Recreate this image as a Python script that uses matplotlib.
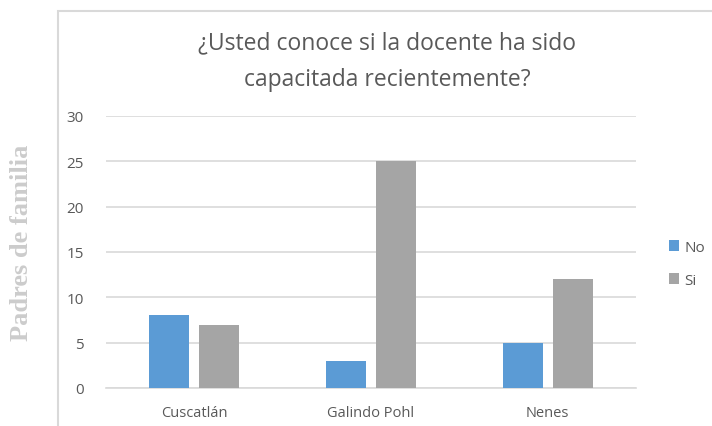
import numpy as np
import matplotlib
matplotlib.use('Agg')
import matplotlib.pyplot as plt
from matplotlib.patches import Rectangle

# data
categories = ['Cuscatlán', 'Galindo Pohl', 'Nenes']
series_names = ['No', 'Si']
no_values = [8, 3, 5]
si_values = [7, 25, 12]
yticks = [0, 5, 10, 15, 20, 25, 30]

col_no = '#5B9BD5'
col_si = '#A5A5A5'
txt = '#595959'
grid = '#D9D9D9'

plt.rcParams['font.family'] = ['Open Sans', 'DejaVu Sans']

fig = plt.figure(figsize=(7.12, 4.27), dpi=100)
ax = fig.add_axes([106/712, 1 - 389/427, 530/712, 272/427])

x = np.arange(len(categories))
w = 0.226
off = 0.142
ax.bar(x - off, no_values, w, color=col_no, label=series_names[0], zorder=3)
ax.bar(x + off, si_values, w, color=col_si, label=series_names[1], zorder=3)

ax.set_xlim(-0.5, len(categories) - 0.5)
ax.set_ylim(0, 30)
ax.set_yticks(yticks)
ax.set_xticks(x)
ax.set_xticklabels(categories)
ax.yaxis.grid(True, color=grid, linewidth=1.2, zorder=0)
for s in ['top', 'right', 'left']:
    ax.spines[s].set_visible(False)
ax.spines['bottom'].set_color(grid)
ax.spines['bottom'].set_linewidth(1.2)
ax.tick_params(axis='both', length=0, colors=txt, labelsize=10.5)
ax.tick_params(axis='y', pad=16, labelsize=11)
ax.tick_params(axis='x', pad=12)

# chart area border (left and top edges visible)
fig.patches.append(Rectangle((58/712, -0.1), 1.0, 1 - 12/427 + 0.1,
                             transform=fig.transFigure, fill=False,
                             edgecolor=grid, linewidth=1.5))

fig.text(387/712, 1 - 62/427, '¿Usted conoce si la docente ha sido\ncapacitada recientemente?',
         ha='center', va='center', fontsize=16.5, color=txt, linespacing=1.7)

fig.text(22/712, 1 - 243/427, 'Padres de familia', rotation=90, ha='center', va='center',
         fontsize=19, fontweight='bold', family='Liberation Serif', color='#CCCCCC')

fig.legend(loc='center left', bbox_to_anchor=(655/712, 1 - 265/427), frameon=False,
           fontsize=11, labelcolor=txt, handlelength=0.7, handleheight=0.7,
           handletextpad=0.3, labelspacing=1.2)

fig.savefig('out.png', dpi=100)
